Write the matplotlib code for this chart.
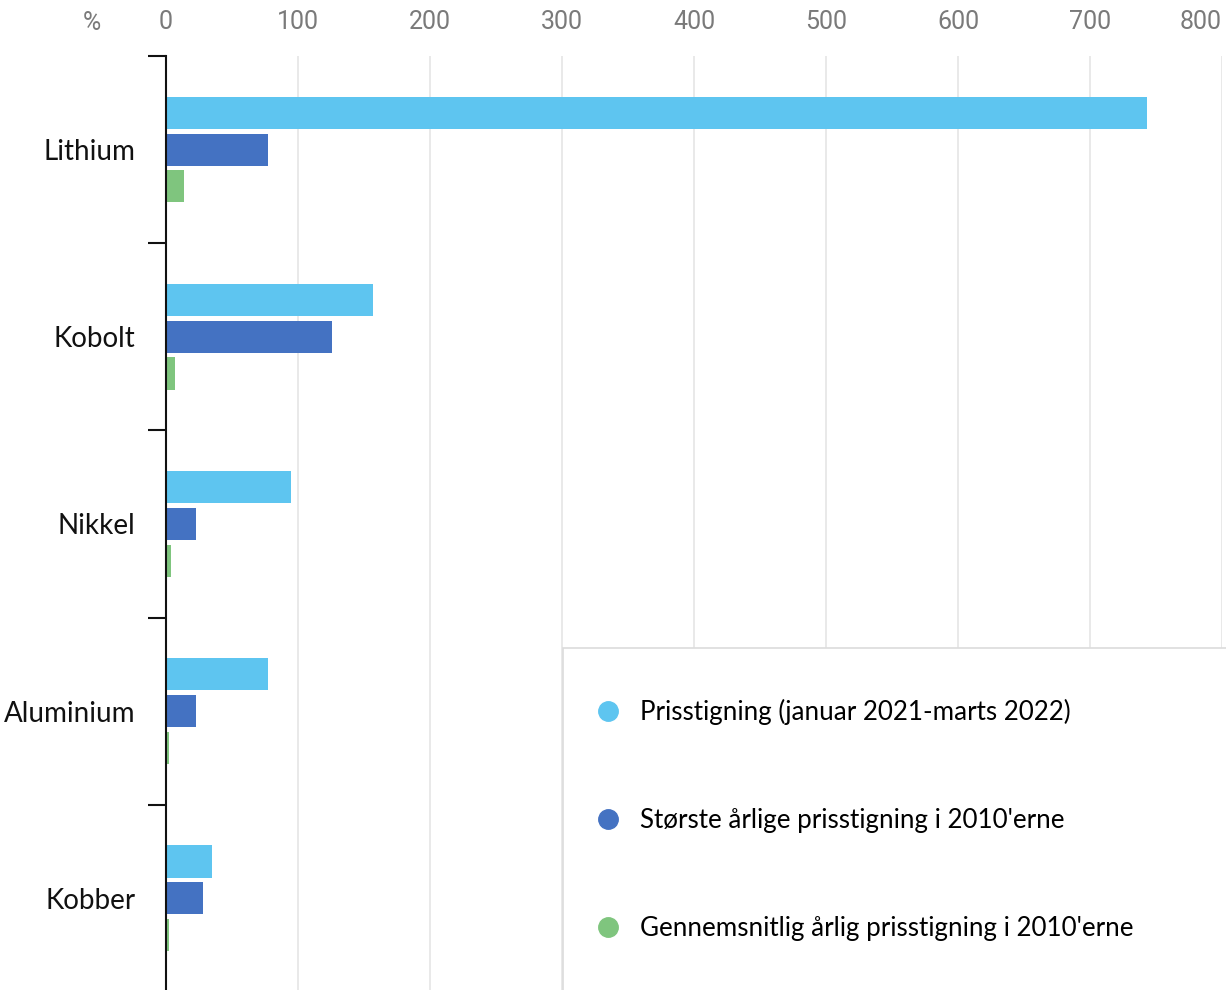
import matplotlib
matplotlib.use("Agg")
import matplotlib.pyplot as plt
from matplotlib.lines import Line2D
from matplotlib.patches import Rectangle
import numpy as np

categories = ["Lithium", "Kobolt", "Nikkel", "Aluminium", "Kobber"]
series_names = ["Prisstigning (januar 2021-marts 2022)",
                "Største årlige prisstigning i 2010'erne",
                "Gennemsnitlig årlig prisstigning i 2010'erne"]
prisstigning = [743, 157, 95, 77, 35]
stoerste = [77, 126, 23, 23, 28]
gennemsnit = [14, 7, 4, 2, 2]
x_ticks = [0, 100, 200, 300, 400, 500, 600, 700, 800]

colors = ["#5EC5F0", "#4472C2", "#7FC57E"]

fig = plt.figure(figsize=(12.26, 9.90), dpi=100)
ax = fig.add_axes([166/1226, -2/990, (1222-166)/1226, (992-56)/990])

y = np.arange(len(categories))
h = 0.172
offs = [-0.197, 0.0, 0.196]
for vals, off, c, name in zip([prisstigning, stoerste, gennemsnit], offs, colors, series_names):
    ax.barh(y + off, vals, height=h, color=c, label=name, zorder=3)

ax.set_xlim(0, 800)
ax.set_ylim(len(categories) - 0.5, -0.5)
ax.xaxis.tick_top()
ax.set_xticks(x_ticks)
labels = ax.set_xticklabels([str(t) for t in x_ticks], fontsize=18, color="#7a7a7a", family="Roboto")
labels[-1].set_ha("right")
ax.tick_params(axis="x", length=0, pad=16)
ax.grid(axis="x", color="#e3e3e3", linewidth=1.1, zorder=0)

# boundaries as major ticks, category names as minor labels
ax.set_yticks(np.arange(-0.5, len(categories) + 0.5, 1.0))
ax.set_yticklabels([])
ax.set_yticks(y, minor=True)
ax.set_yticklabels(categories, minor=True, fontsize=20, family="Lato", color="#111111")
ax.tick_params(axis="y", which="major", length=13, width=1.5, color="#111111")
ax.tick_params(axis="y", which="minor", length=0, pad=22)

for s in ["top", "right", "bottom"]:
    ax.spines[s].set_visible(False)
ax.spines["left"].set_color("#111111")
ax.spines["left"].set_linewidth(1.5)
ax.spines["left"].set_zorder(4)

fig.text(92/1226, 1 - 23/990, "%", fontsize=18, color="#7a7a7a", family="Roboto",
         ha="center", va="center")

# legend box
rect = Rectangle((563/1226, -0.01), 0.6, (1 - 648/990) + 0.01, transform=fig.transFigure,
                 facecolor="white", edgecolor="#dcdcdc", linewidth=1.2, zorder=5)
fig.patches.append(rect)
handles = [Line2D([], [], marker="o", linestyle="none", markersize=14,
                  markerfacecolor=c, markeredgecolor=c) for c in colors]
leg = fig.legend(handles, series_names, loc="upper left",
                 bbox_to_anchor=(582/1226, 1 - 686/990), frameon=False,
                 prop={"family": "Lato", "size": 18.7}, labelspacing=3.2,
                 handletextpad=0.75, handlelength=1.0, borderpad=0)
leg.set_zorder(6)

fig.savefig("out.png", dpi=100)
